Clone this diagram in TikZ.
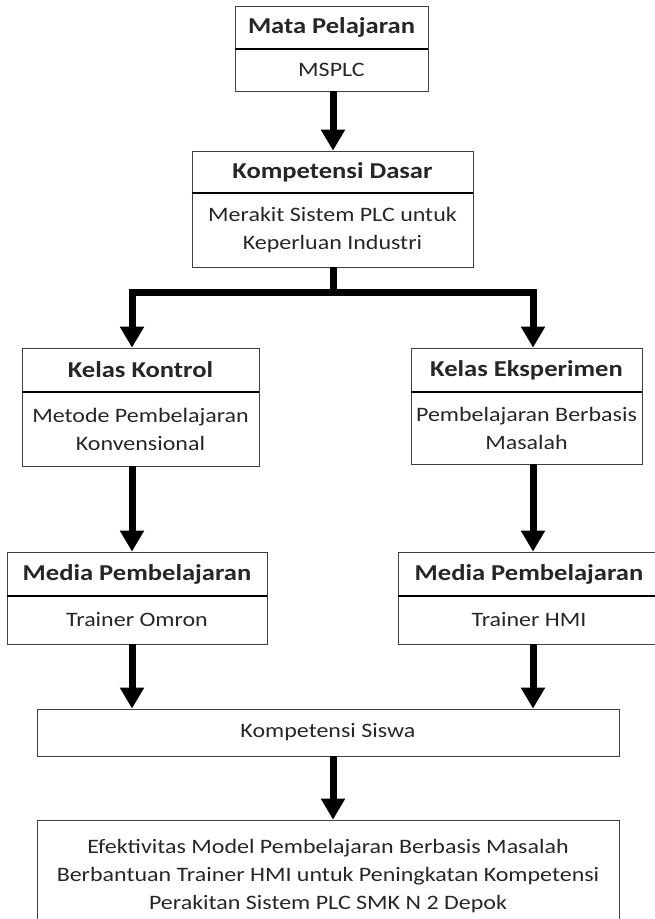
\documentclass[tikz,border=0pt]{standalone}
\usepackage{fontspec}
\setmainfont{Carlito}[FakeStretch=1.17]
\usetikzlibrary{arrows.meta}
\begin{document}
\begin{tikzpicture}[x=1pt,y=-1pt,
    box/.style={draw=black!75,line width=0.8pt,inner sep=0pt,align=center,text=black!85,font=\fontsize{20.5}{28}\selectfont},
    head/.style={box,font=\fontsize{22.7}{28}\selectfont\bfseries},
    sep/.style={line width=2pt},
    arr/.style={line width=7pt,-{Triangle[width=23pt,length=21pt]}}]
  \useasboundingbox (0,0) rectangle (654,919);
  \coordinate (L) at (132,0);
  \coordinate (R) at (533,0);
  \coordinate (M) at (333,0);

  \node[head,minimum width=193,minimum height=43] (mph) at (331.5,27.5) {Mata Pelajaran};
  \node[box,minimum width=193,minimum height=42] (mpb) at (331.5,70) {MSPLC};
  \node[head,minimum width=281,minimum height=42] (kdh) at (332.5,172) {Kompetensi Dasar};
  \node[box,minimum width=281,minimum height=74] (kdb) at (332.5,230) {Merakit Sistem PLC untuk\\ Keperluan Industri};

  \node[head,minimum width=237,minimum height=44] (kkh) at (140.5,370) {Kelas Kontrol};
  \node[box,minimum width=237,minimum height=74] (kkb) at (140.5,429) {Metode Pembelajaran\\ Konvensional};
  \node[head,minimum width=231,minimum height=44] (keh) at (526.5,370) {Kelas Eksperimen};
  \node[box,minimum width=231,minimum height=72] (keb) at (526.5,428) {Pembelajaran Berbasis\\ Masalah};

  \node[head,minimum width=260,minimum height=44] (mlh) at (137,574) {Media Pembelajaran};
  \node[box,minimum width=260,minimum height=48] (mlb) at (137,620) {Trainer Omron};
  \node[head,minimum width=262,minimum height=44] (mrh) at (529,574) {Media Pembelajaran};
  \node[box,minimum width=262,minimum height=48] (mrb) at (529,620) {Trainer HMI};

  \node[box,minimum width=582,minimum height=47] (ks) at (328,732.5) {Kompetensi Siswa};
  \node[box,minimum width=582,minimum height=112] (ef) at (328,876) {Efektivitas Model Pembelajaran Berbasis Masalah\\ Berbantuan Trainer HMI untuk Peningkatan Kompetensi\\ Perakitan Sistem PLC SMK N 2 Depok};

  \draw[sep] (mph.south west) -- (mph.south east);
  \draw[sep] (kdh.south west) -- (kdh.south east);
  \draw[sep] (kkh.south west) -- (kkh.south east);
  \draw[sep] (keh.south west) -- (keh.south east);
  \draw[sep] (mlh.south west) -- (mlh.south east);
  \draw[sep] (mrh.south west) -- (mrh.south east);

  \draw[arr] (mpb.south -| M) -- (kdh.north -| M);
  \coordinate (fork) at (333,292);
  \draw[line width=7pt] (kdb.south -| M) -- (fork);
  \draw[arr] (fork) -| (kkh.north -| L);
  \draw[arr] (fork) -| (keh.north -| R);
  \draw[arr] (kkb.south -| L) -- (mlh.north -| L);
  \draw[arr] (keb.south -| R) -- (mrh.north -| R);
  \draw[arr] (mlb.south -| L) -- (ks.north -| L);
  \draw[arr] (mrb.south -| R) -- (ks.north -| R);
  \draw[arr] (ks.south -| M) -- (ef.north -| M);
\end{tikzpicture}
\end{document}
